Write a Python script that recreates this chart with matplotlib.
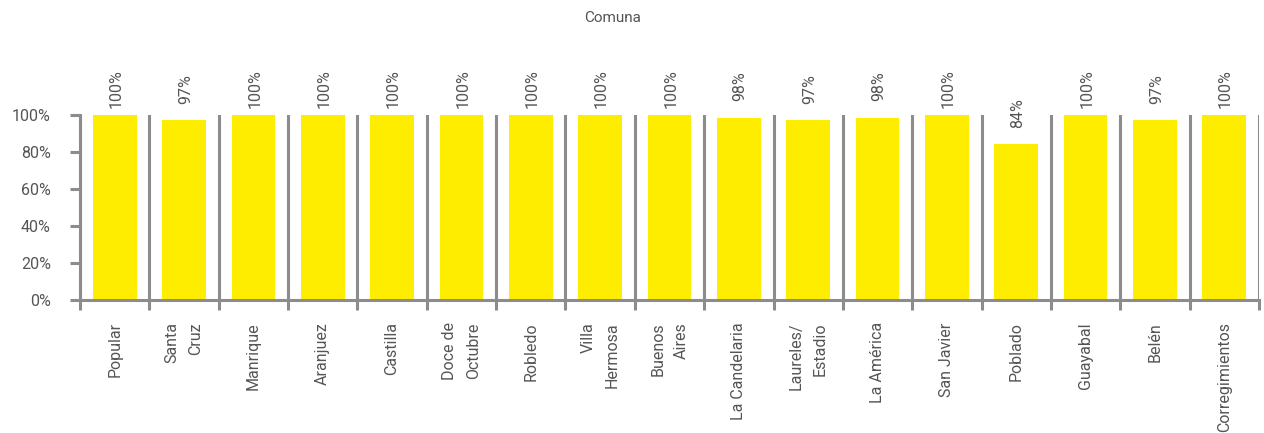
import matplotlib
matplotlib.use("Agg")
import matplotlib.pyplot as plt
import numpy as np

comunas = [
    "Popular", "Santa\nCruz", "Manrique", "Aranjuez", "Castilla",
    "Doce de\nOctubre", "Robledo", "Villa\nHermosa", "Buenos\nAires",
    "La Candelaria", "Laureles/\nEstadio", "La América", "San Javier",
    "Poblado", "Guayabal", "Belén", "Corregimientos",
]
valores = [1.00, 0.973, 1.00, 1.00, 1.00, 1.00, 1.00, 1.00, 1.00,
           0.985, 0.973, 0.985, 1.00, 0.844, 1.00, 0.973, 1.00]
y_ticks = [0, 0.2, 0.4, 0.6, 0.8, 1.0]

AMARILLO = "#FFED00"
GRIS = "#8C8C8C"
TEXTO = "#555555"

plt.rcParams["font.family"] = ["Roboto", "DejaVu Sans"]

fig = plt.figure(figsize=(12.64, 4.33), dpi=100)
ax = fig.add_axes([0.0633, 0.307, 0.9327, 0.427])

x = np.arange(len(comunas))
ax.bar(x, valores, width=0.63, color=AMARILLO, zorder=2)

for xi, v in zip(x, valores):
    ax.text(xi + 0.02, v + 0.25, f"{v:.0%}", rotation=90, ha="center",
            va="top", fontsize=11.5, color=TEXTO, clip_on=False)

# separadores de categoria
bordes = np.arange(len(comunas) + 1) - 0.5
for b in bordes:
    ax.axvline(b, color=GRIS, lw=2.2, zorder=1)

ax.set_xlim(-0.5, len(comunas) - 0.5)
ax.set_ylim(0, 1.0)
ax.set_xticks(x)
ax.set_xticklabels(comunas, rotation=90, fontsize=11.5, color=TEXTO,
                   multialignment="right", linespacing=1.7)
ax.set_xticks(bordes, minor=True)
ax.tick_params(axis="x", which="major", length=0, pad=16)
ax.tick_params(axis="x", which="minor", length=7, width=2.2, color=GRIS,
               direction="out")
ax.set_yticks(y_ticks)
ax.set_yticklabels([f"{t:.0%}" for t in y_ticks], fontsize=11.5, color=TEXTO)
ax.tick_params(axis="y", length=7, width=2.2, color=GRIS, pad=14)

for s in ["top", "right"]:
    ax.spines[s].set_visible(False)
for s in ["left", "bottom"]:
    ax.spines[s].set_color(GRIS)
    ax.spines[s].set_linewidth(2.2)

fig.text(0.4845, 0.958, "Comuna", ha="center", va="center", fontsize=11,
         color=TEXTO)

fig.savefig("out.png", dpi=100)
